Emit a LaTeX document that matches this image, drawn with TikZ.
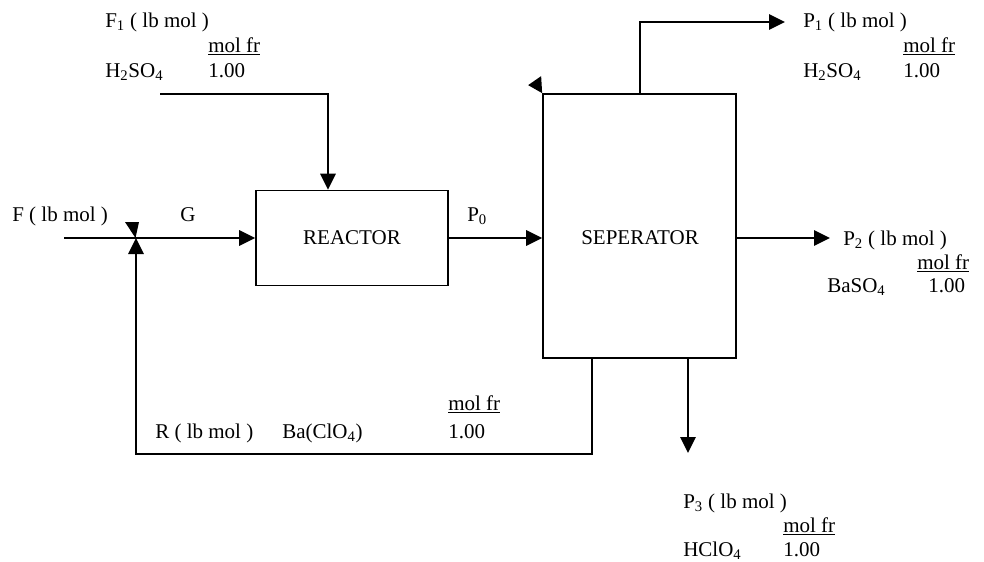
\documentclass[tikz,border=0pt]{standalone}
\usepackage{fontspec}
\setmainfont{Liberation Serif}
\usetikzlibrary{arrows.meta}
\begin{document}
\begin{tikzpicture}[x=0.75pt,y=-0.75pt,
  every node/.style={font=\fontsize{15.75pt}{19pt}\selectfont},
  lbl/.style={inner sep=0pt, anchor=base west},
  unit/.style={draw, line width=1.3pt, inner sep=0pt},
  flow/.style={line width=1.5pt, -{Triangle[length=12pt,width=11.5pt]}}]
\useasboundingbox (0,0) rectangle (984,561);
% units
\node[unit, minimum width=144pt, minimum height=71.25pt] (reactor) at (352,238) {REACTOR};
\node[unit, minimum width=144.75pt, minimum height=198pt] (sep) at (639.5,226) {};
\node[inner sep=0pt] (septext) at (640,238) {SEPERATOR};
% coordinates
\coordinate (fin) at (64,238);
\coordinate (mix) at (136,238);
\coordinate (f1in) at (160,94);
\coordinate (f1bend) at (328,94);
\coordinate (p1bend) at (640,22);
\coordinate (p1end) at (785,22);
\coordinate (p2end) at (830,238);
\coordinate (p3end) at (688,453);
\coordinate (rcorner) at (592,454);
% connectors
\draw[flow] (fin) -- (reactor.west);
\draw[flow] (f1in) -- (f1bend) -- (f1bend |- reactor.north);
\draw[flow] (reactor.east) -- (reactor.east -| sep.west);
\draw[flow] (p1bend |- sep.north) -- (p1bend) -- (p1end);
\draw[flow] (sep.east |- reactor.east) -- (p2end);
\draw[flow] (p3end |- sep.south) -- (p3end);
\draw[flow] (rcorner |- sep.south) -- (rcorner) -- (rcorner -| mix) -- (mix);
% stray arrowheads
\fill (125,222) -- (139,222) -- (135.5,238) -- cycle;
\fill (sep.north west) -- ++(-1,-17) -- ++(-13,9) -- cycle;
% labels
\node[lbl] (f1t) at (105,27) {F\textsubscript{1} ( lb mol )};
\node[lbl] (f1mf) at (208,52) {\underline{mol fr}};
\node[lbl] (f1c) at (105,77) {H\textsubscript{2}SO\textsubscript{4}};
\node[lbl] (f1v) at (208,77) {1.00};
\node[lbl] (ft) at (12,221) {F ( lb mol )};
\node[lbl] (gt) at (180,221) {G};
\node[lbl] (p0t) at (467,221) {P\textsubscript{0}};
\node[lbl] (p1t) at (803,27) {P\textsubscript{1} ( lb mol )};
\node[lbl] (p1mf) at (903,52) {\underline{mol fr}};
\node[lbl] (p1c) at (803,77) {H\textsubscript{2}SO\textsubscript{4}};
\node[lbl] (p1v) at (903,77) {1.00};
\node[lbl] (p2t) at (843,245) {P\textsubscript{2} ( lb mol )};
\node[lbl] (p2mf) at (917,269) {\underline{mol fr}};
\node[lbl] (p2c) at (827,292) {BaSO\textsubscript{4}};
\node[lbl] (p2v) at (928,292) {1.00};
\node[lbl] (rt) at (155,438) {R ( lb mol )};
\node[lbl] (rc) at (282,438) {Ba(ClO\textsubscript{4})};
\node[lbl] (rmf) at (448,410) {\underline{mol fr}};
\node[lbl] (rv) at (448,438) {1.00};
\node[lbl] (p3t) at (683,508) {P\textsubscript{3} ( lb mol )};
\node[lbl] (p3mf) at (783,532) {\underline{mol fr}};
\node[lbl] (p3c) at (683,556) {HClO\textsubscript{4}};
\node[lbl] (p3v) at (783,556) {1.00};
\end{tikzpicture}
\end{document}
